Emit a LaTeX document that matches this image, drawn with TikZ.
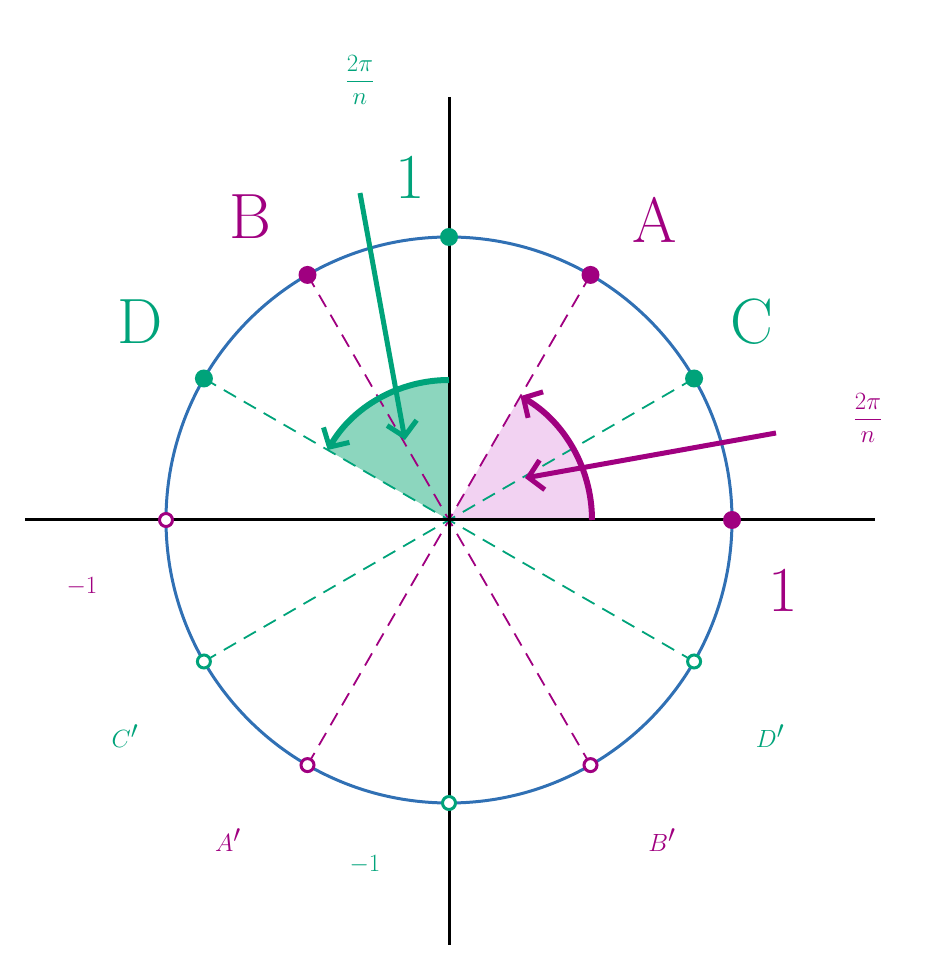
\documentclass[tikz,border=0pt]{standalone}
\usetikzlibrary{arrows.meta,calc}
\definecolor{mag}{RGB}{160,0,128}
\definecolor{grn}{RGB}{0,163,122}
\definecolor{blu}{RGB}{48,112,180}
\definecolor{pinkf}{RGB}{242,210,242}
\definecolor{grnf}{RGB}{140,214,190}
\tikzset{
 lab/.style={font=\fontsize{64}{76}\selectfont, inner sep=0pt},
 dot/.style={circle, fill=#1, inner sep=0pt, minimum size=18pt},
 odot/.style={circle, draw=#1, fill=white, line width=3pt, inner sep=0pt, minimum size=13pt},
 dsh/.style={#1, line width=1.8pt, dash pattern=on 14pt off 9pt},
 tip/.style={-{Straight Barb[length=14pt,width=30pt,line width=5pt]}}
}
\begin{document}
\begin{tikzpicture}[x=1pt,y=1pt]
\useasboundingbox (0,0) rectangle (934,962);
\coordinate (O) at (449,442);
\def\R{283}
% wedges
\fill[pinkf] (O) -- ++(0:143) arc (0:60:143) -- cycle;
\fill[grnf] (O) -- ++(90:140) arc (90:150:140) -- cycle;
% dashed
\foreach \a/\c in {60/mag,120/mag,30/grn,150/grn}
  \draw[dsh=\c] ($(O)+(\a:\R)$) -- ($(O)+(\a+180:\R)$);
% axes
\draw[line width=3pt] (25,442) coordinate (xl) -- (875,442) coordinate (xr);
\draw[line width=3pt] (449,865) coordinate (yt) -- (449,17) coordinate (yb);
% circle
\draw[blu, line width=3pt] (O) circle (\R);
% arcs
\draw[mag, line width=6pt, tip] (O) ++(0:143) arc (0:60:143);
\draw[grn, line width=6pt, tip] (O) ++(90:140) arc (90:150:140);
% points
\node[dot=mag] (p0) at ($(O)+(0:\R)$) {};
\node[dot=mag] (pA) at ($(O)+(60:\R)$) {};
\node[dot=mag] (pB) at ($(O)+(120:\R)$) {};
\node[dot=grn] (p90) at ($(O)+(90:\R)$) {};
\node[dot=grn] (pC) at ($(O)+(30:\R)$) {};
\node[dot=grn] (pD) at ($(O)+(150:\R)$) {};
\node[odot=mag] (p180) at ($(O)+(180:\R)$) {};
\node[odot=grn] (pCp) at ($(O)+(210:\R)$) {};
\node[odot=mag] (pAp) at ($(O)+(240:\R)$) {};
\node[odot=grn] (p270) at ($(O)+(270:\R)$) {};
\node[odot=mag] (pBp) at ($(O)+(300:\R)$) {};
\node[odot=grn] (pDp) at ($(O)+(330:\R)$) {};
% labels
\node[lab, mag] (lA) at (655,742) {A};
\node[lab, mag] (lB) at (250,745) {B};
\node[lab, grn] (lC) at (752,640) {C};
\node[lab, grn] (lD) at (140,640) {D};
\node[lab, grn] (lCp) at (125,226) {$C'$};
\node[lab, grn] (lDp) at (770,226) {$D'$};
\node[lab, mag] (lAp) at (228,122) {$A'$};
\node[lab, mag] (lBp) at (662,122) {$B'$};
\node[lab, mag] (l1) at (783,372) {1};
\node[lab, mag] (lm1) at (82,375) {$-1$};
\node[lab, grn] (lm1g) at (365,97) {$-1$};
\node[lab, grn] (l1g) at (410,785) {1};
\node[lab, mag] (fm) at (868,544) {$\displaystyle\frac{2\pi}{n}$};
\node[lab, grn] (fg) at (360,882) {$\displaystyle\frac{2\pi}{n}$};
% pointer arrows
\coordinate (am) at (776,529);
\coordinate (amt) at (525,484);
\draw[mag, line width=5pt, tip] (am) -- (amt);
\coordinate (ag) at (360,769);
\coordinate (agt) at (405,522);
\draw[grn, line width=5pt, tip] (ag) -- (agt);
\end{tikzpicture}
\end{document}
